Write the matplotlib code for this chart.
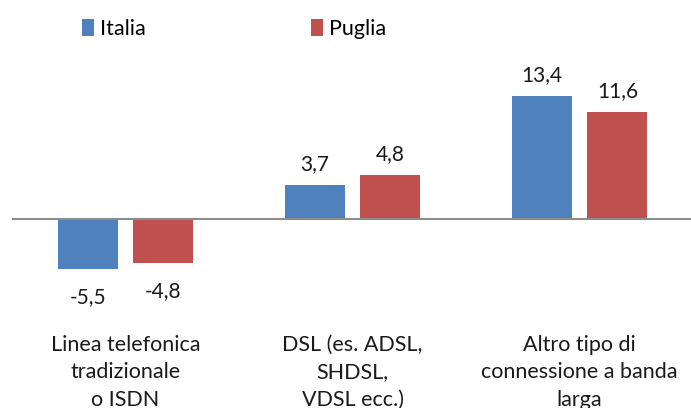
import matplotlib
matplotlib.use("Agg")
import matplotlib.pyplot as plt
import numpy as np

categories = ["Linea telefonica\ntradizionale\no ISDN",
              "DSL (es. ADSL,\nSHDSL,\nVDSL ecc.)",
              "Altro tipo di\nconnessione a banda\nlarga"]
series_names = ["Italia", "Puglia"]
italia = [-5.5, 3.7, 13.4]
puglia = [-4.8, 4.8, 11.6]
colors = ["#4F81BD", "#C0504D"]

plt.rcParams['font.family'] = ['Lato', 'DejaVu Sans']

W, H = 691, 408
fig = plt.figure(figsize=(W/100, H/100), dpi=100)
ax_left, ax_right = 12, 693
ax_top, ax_bot = 60, 320
ax = fig.add_axes([ax_left/W, 1 - ax_bot/H, (ax_right-ax_left)/W, (ax_bot-ax_top)/H])

x = np.arange(len(categories))
bw = 0.264
off = 0.167
b1 = ax.bar(x - off, italia, bw, color=colors[0], label=series_names[0])
b2 = ax.bar(x + off, puglia, bw, color=colors[1], label=series_names[1])

ax.set_xlim(-0.5, 2.5)
ax.set_ylim(-11, 17.3)
ax.axhline(0, color="#8C8C8C", lw=1.5, zorder=3)

for bars, vals in ((b1, italia), (b2, puglia)):
    for rect, v in zip(bars, vals):
        cx = rect.get_x() + rect.get_width()/2
        txt = f"{v:.1f}".replace(".", ",")
        if v >= 0:
            ax.annotate(txt, (cx, v), xytext=(0, 15), textcoords="offset points",
                        ha="center", va="center", fontsize=15, color="#1a1a1a")
        else:
            ax.annotate(txt, (cx, v), xytext=(0, -20), textcoords="offset points",
                        ha="center", va="center", fontsize=15, color="#1a1a1a")

ax.set_xticks(x)
ax.set_xticklabels(categories, fontsize=15.5, linespacing=1.45, color="#1a1a1a")
ax.tick_params(axis="x", length=0, pad=11)
ax.set_yticks([])
for s in ax.spines.values():
    s.set_visible(False)

fig.legend(handles=[b1, b2], labels=series_names, loc="upper left",
           bbox_to_anchor=(82/W, 1 - 19/H), ncol=2, frameon=False,
           fontsize=15.5, handlelength=0.57, handleheight=0.8, handletextpad=0.25,
           columnspacing=7.7, borderpad=0, borderaxespad=0)

fig.savefig("out.png", dpi=100)
